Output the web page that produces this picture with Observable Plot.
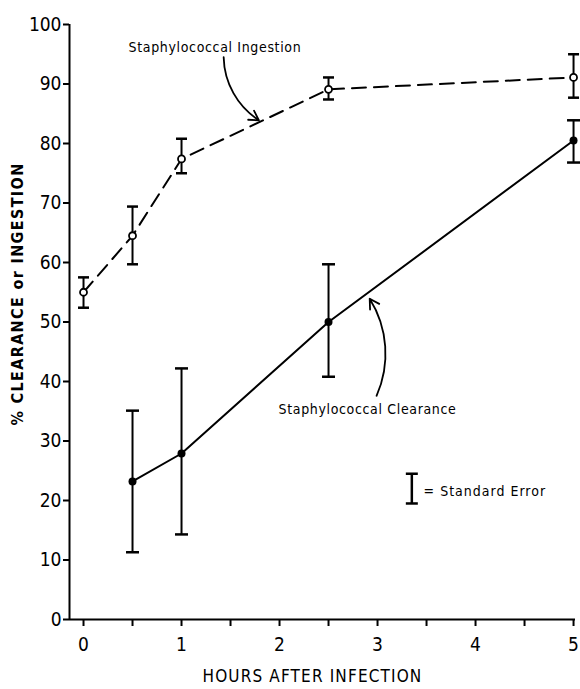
<!DOCTYPE html>
<html><head><meta charset="utf-8">
<script src="https://cdn.jsdelivr.net/npm/d3@7"></script>
<script src="https://cdn.jsdelivr.net/npm/@observablehq/plot@0.6"></script>
<style>body{margin:0;background:#fff}</style>
</head><body><div id="chart"></div>
<script>
// Data
const ingestionHours = [0, 0.5, 1, 2.5, 5];
const ingestion   = [55.0, 64.5, 77.4, 89.1, 91.1];
const ingestionLo = [52.4, 59.7, 75.0, 87.4, 87.7];
const ingestionHi = [57.5, 69.4, 80.8, 91.1, 95.0];

const clearanceHours = [0.5, 1, 2.5, 5];
const clearance   = [23.2, 27.9, 50.0, 80.5];
const clearanceLo = [11.3, 14.3, 40.8, 76.8];
const clearanceHi = [35.1, 42.2, 59.7, 83.9];

const xTicks = [0, 0.5, 1, 1.5, 2, 2.5, 3, 3.5, 4, 4.5, 5];
const yTicks = [0, 10, 20, 30, 40, 50, 60, 70, 80, 90, 100];

const xTitle = "HOURS AFTER INFECTION";
const yTitle = "% CLEARANCE or INGESTION";

const seriesLabels = [
  {text: "Staphylococcal Ingestion", x: 0.46, y: 96.1},
  {text: "Staphylococcal Clearance", x: 1.99, y: 35.3}
];
const arrows = [
  {x1: 1.43, y1: 94.5, x2: 1.79, y2: 83.9},
  {x1: 2.99, y1: 37.6, x2: 2.92, y2: 53.9}
];
const legendBar = {x: 3.35, lo: 19.5, hi: 24.5};
const legendText = {text: "= Standard Error", x: 3.47, y: 21.5};

const xDomain = [-0.143, 5.02];
const yDomain = [0, 100];

// build tables
const ing = ingestionHours.map((h, i) => ({h, v: ingestion[i], lo: ingestionLo[i], hi: ingestionHi[i]}));
const clr = clearanceHours.map((h, i) => ({h, v: clearance[i], lo: clearanceLo[i], hi: clearanceHi[i]}));

const cap = {draw(ctx, size) { const w = Math.sqrt(size / Math.PI); ctx.moveTo(-w, 0); ctx.lineTo(w, 0); }};

const font = "'DejaVu Sans Condensed', 'DejaVu Sans', sans-serif";

const chart = Plot.plot({
  width: 580,
  height: 689,
  marginLeft: 69,
  marginRight: 5,
  marginTop: 24,
  marginBottom: 70,
  style: {fontFamily: font, fontSize: "18px", color: "black", background: "white", fontStretch: "condensed"},
  x: {domain: xDomain},
  y: {domain: yDomain},
  marks: [
    Plot.ruleY([yDomain[0]], {stroke: "black", strokeWidth: 2}),
    Plot.ruleX([xDomain[0]], {stroke: "black", strokeWidth: 2}),
    Plot.axisY({ticks: yTicks, tickSize: 6, tickPadding: 2, label: null, strokeWidth: 2, fontSize: 19}),
    Plot.axisX({ticks: xTicks, tickSize: 7, tickPadding: 11, label: null, strokeWidth: 2, fontSize: 19,
      tickFormat: d => Number.isInteger(d) ? String(d) : ""}),
    // ingestion
    Plot.line(ing, {x: "h", y: "v", stroke: "black", strokeWidth: 2, strokeDasharray: "14,8"}),
    Plot.ruleX(ing, {x: "h", y1: "lo", y2: "hi", stroke: "black", strokeWidth: 2}),
    Plot.dot(ing, {x: "h", y: "lo", symbol: cap, r: 5.5, stroke: "black", strokeWidth: 2.5}),
    Plot.dot(ing, {x: "h", y: "hi", symbol: cap, r: 5.5, stroke: "black", strokeWidth: 2.5}),
    Plot.dot(ing, {x: "h", y: "v", r: 3.5, fill: "white", stroke: "black", strokeWidth: 1.8}),
    // clearance
    Plot.line(clr, {x: "h", y: "v", stroke: "black", strokeWidth: 2}),
    Plot.ruleX(clr, {x: "h", y1: "lo", y2: "hi", stroke: "black", strokeWidth: 2}),
    Plot.dot(clr, {x: "h", y: "lo", symbol: cap, r: 6.5, stroke: "black", strokeWidth: 2.5}),
    Plot.dot(clr, {x: "h", y: "hi", symbol: cap, r: 6.5, stroke: "black", strokeWidth: 2.5}),
    Plot.dot(clr, {x: "h", y: "v", r: 4, fill: "black"}),
    // annotations
    Plot.text(seriesLabels, {x: "x", y: "y", text: "text", textAnchor: "start", fontSize: 14, fill: "black"}),
    Plot.arrow(arrows, {x1: "x1", y1: "y1", x2: "x2", y2: "y2", bend: -28, headLength: 9, stroke: "black", strokeWidth: 1.8}),
    // legend
    Plot.ruleX([legendBar], {x: "x", y1: "lo", y2: "hi", stroke: "black", strokeWidth: 2.5}),
    Plot.dot([legendBar], {x: "x", y: "lo", symbol: cap, r: 6, stroke: "black", strokeWidth: 2.5}),
    Plot.dot([legendBar], {x: "x", y: "hi", symbol: cap, r: 6, stroke: "black", strokeWidth: 2.5}),
    Plot.text([legendText], {x: "x", y: "y", text: "text", textAnchor: "start", fontSize: 14, fill: "black"}),
    // titles
    Plot.text([xTitle], {frameAnchor: "bottom", dy: 62, dx: -10, fontSize: 17, fill: "black"}),
    Plot.text([yTitle], {frameAnchor: "left", textAnchor: "middle", rotate: -90, dx: -52, dy: -28, fontSize: 16, fontWeight: "bold", fill: "black"})
  ]
});

// letter spacing to match the lettering of the original
const spacing = new Map([
  [seriesLabels[0].text, "0.65px"],
  [seriesLabels[1].text, "0.65px"],
  [legendText.text, "1px"],
  [xTitle, "1.15px"],
  [yTitle, "1.35px"]
]);
d3.select(chart).selectAll("text").each(function () {
  const s = spacing.get(this.textContent);
  if (s) this.style.letterSpacing = s;
});
document.getElementById("chart").append(chart);
</script>
</body></html>
